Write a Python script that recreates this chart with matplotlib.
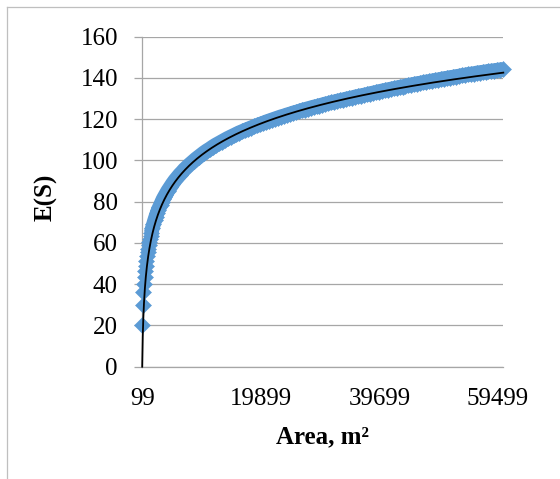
import matplotlib
matplotlib.use("Agg")
import matplotlib.pyplot as plt
import numpy as np
from matplotlib.lines import Line2D

# Sampled survey areas (m^2) and expected species richness E(S)
area = [
    99, 198, 297, 396, 495, 594, 693, 792, 891, 990, 1089, 1188, 1287, 1386, 1485, 1584,
    1782, 1980, 2178, 2376, 2574, 2772, 2970, 3168, 3366, 3564, 3762, 3960,
    4356, 4752, 5148, 5544, 5940, 6336, 6732, 7128, 7524, 7920, 8316, 8712, 9108, 9504, 9900,
    10395, 10890, 11385, 11880, 12375, 12870, 13365, 13860, 14355, 14850,
    15345, 15840, 16335, 16830, 17325, 17820, 18315, 18810, 19305, 19800,
    20295, 20790, 21285, 21780, 22275, 22770, 23265, 23760, 24255, 24750,
    25245, 25740, 26235, 26730, 27225, 27720, 28215, 28710, 29205, 29700,
    30195, 30690, 31185, 31680, 32175, 32670, 33165, 33660, 34155, 34650,
    35145, 35640, 36135, 36630, 37125, 37620, 38115, 38610, 39105, 39600,
    40095, 40590, 41085, 41580, 42075, 42570, 43065, 43560, 44055, 44550,
    45045, 45540, 46035, 46530, 47025, 47520, 48015, 48510, 49005, 49500,
    49995, 50490, 50985, 51480, 51975, 52470, 52965, 53460, 53955, 54450,
    54945, 55440, 55935, 56430, 56925, 57420, 57915, 58410, 58905, 59400,
    59895, 60390,
]
expected_s = [
    20.0, 30.0, 36.4, 40.3, 43.5, 46.5, 49.0, 51.4, 53.5, 55.5, 57.3, 59.0, 60.5, 62.0, 63.4, 64.7,
    67.1, 69.1, 71.0, 72.8, 74.4, 76.0, 77.3, 78.6, 79.9, 81.1, 82.2, 83.2,
    85.2, 87.0, 88.7, 90.3, 91.7, 93.1, 94.3, 95.6, 96.7, 97.8, 98.8, 99.8, 100.8, 101.7, 102.6,
    103.7, 104.7, 105.6, 106.6, 107.5, 108.3, 109.1, 109.9, 110.7, 111.4,
    112.1, 112.8, 113.5, 114.1, 114.7, 115.3, 115.9, 116.5, 117.0, 117.6,
    118.1, 118.7, 119.2, 119.7, 120.2, 120.7, 121.2, 121.6, 122.1, 122.5,
    123.0, 123.4, 123.8, 124.3, 124.7, 125.1, 125.5, 125.9, 126.2, 126.6,
    127.0, 127.4, 127.7, 128.1, 128.4, 128.8, 129.1, 129.4, 129.8, 130.1,
    130.4, 130.8, 131.1, 131.4, 131.7, 132.0, 132.4, 132.7, 133.0, 133.4,
    133.7, 134.0, 134.3, 134.6, 134.9, 135.2, 135.5, 135.8, 136.1, 136.4,
    136.7, 137.0, 137.3, 137.5, 137.8, 138.1, 138.3, 138.6, 138.9, 139.1,
    139.4, 139.7, 139.9, 140.2, 140.4, 140.7, 140.9, 141.2, 141.4, 141.7,
    141.9, 142.1, 142.4, 142.6, 142.8, 143.0, 143.2, 143.4, 143.6, 143.8,
    144.0, 144.2,
]

# Logarithmic trendline: E(S) = slope * ln(area) + intercept
trend_slope = 22.23
trend_intercept = -102.15

x_ticks = [99, 19899, 39699, 59499]
y_ticks = [0, 20, 40, 60, 80, 100, 120, 140, 160]

BLUE = "#5B9BD5"
GRID = "#A6A6A6"
FONT = "Liberation Serif"

W, H = 560, 479
fig = plt.figure(figsize=(W / 100, H / 100), dpi=100)
ax = fig.add_axes([142.2 / W, 1 - 366.7 / H, (503.3 - 142.2) / W, (366.7 - 36.7) / H])

ax.set_xlim(area[0], area[-1])
ax.set_ylim(0, 160)

# filled stroke behind the densely packed part of the series
ax.plot(area[15:], expected_s[15:], color=BLUE, linewidth=10.5,
        solid_capstyle="butt", solid_joinstyle="round", clip_on=False, zorder=3)
ax.plot(area, expected_s, linestyle="none", marker="D", markersize=8.3,
        markerfacecolor=BLUE, markeredgecolor=BLUE, markeredgewidth=0.4,
        clip_on=False, zorder=3)

a_line = np.linspace(area[0], area[-1], 2000)
ax.plot(a_line, trend_slope * np.log(a_line) + trend_intercept,
        color="black", linewidth=1.3, zorder=4, clip_on=False)

ax.set_xticks(x_ticks)
ax.set_xticklabels([str(v) for v in x_ticks])
ax.set_yticks(y_ticks)
ax.set_yticklabels([str(v) for v in y_ticks])

ax.grid(axis="y", color=GRID, linewidth=0.9, zorder=0)
ax.set_axisbelow(True)
for side in ("top", "right"):
    ax.spines[side].set_visible(False)
for side in ("left", "bottom"):
    ax.spines[side].set_color(GRID)
    ax.spines[side].set_linewidth(0.9)

ax.tick_params(axis="y", length=6, width=0.9, color=GRID, pad=11.5,
               labelsize=18, labelfontfamily=FONT)
ax.tick_params(axis="x", length=0, pad=15, labelsize=18, labelfontfamily=FONT)

fig.text(46 / W, 1 - 197 / H, "E(S)", rotation=90, ha="center", va="center",
         fontsize=18, fontweight="bold", family=FONT)
fig.text(322 / W, 1 - 443 / H, "Area, m²", ha="center", va="baseline",
         fontsize=18, fontweight="bold", family=FONT)

# chart-area frame
fy = 1 - 6.7 / H
fx = 7 / W
fig.add_artist(Line2D([fx, 1], [fy, fy], transform=fig.transFigure, color="#BFBFBF", linewidth=0.9))
fig.add_artist(Line2D([fx, fx], [0, fy], transform=fig.transFigure, color="#BFBFBF", linewidth=0.9))

fig.savefig("out.png", dpi=100)
